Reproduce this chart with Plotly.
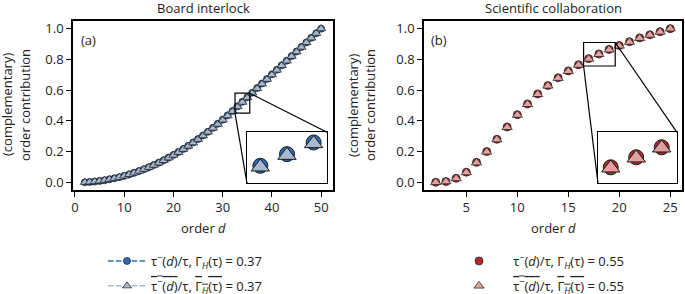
import plotly.graph_objects as go

# ---------------- data ----------------
d_board = list(range(2, 51))
board_tau = [0.0, 0.002, 0.0049, 0.0088, 0.0136, 0.0193, 0.0260, 0.0336, 0.0421, 0.0515,
             0.0619, 0.0732, 0.0854, 0.0986, 0.1127, 0.1278, 0.1437, 0.1606, 0.1784, 0.1972,
             0.2169, 0.2375, 0.2591, 0.2816, 0.3050, 0.3293, 0.3546, 0.3808, 0.4079, 0.4360,
             0.4649, 0.4946, 0.5243, 0.5541, 0.5838, 0.6135, 0.6433, 0.6730, 0.7027, 0.7325,
             0.7622, 0.7919, 0.8216, 0.8514, 0.8811, 0.9108, 0.9405, 0.9703, 1.0]
board_rand = [0.0, 0.002, 0.0048, 0.0086, 0.0133, 0.0189, 0.0255, 0.0330, 0.0414, 0.0507,
              0.0610, 0.0722, 0.0843, 0.0974, 0.1114, 0.1264, 0.1422, 0.1590, 0.1767, 0.1954,
              0.2150, 0.2355, 0.2570, 0.2794, 0.3027, 0.3269, 0.3521, 0.3782, 0.4052, 0.4332,
              0.4620, 0.4916, 0.5213, 0.5511, 0.5809, 0.6107, 0.6405, 0.6704, 0.7002, 0.7301,
              0.7600, 0.7899, 0.8198, 0.8497, 0.8797, 0.9097, 0.9397, 0.9698, 1.0]

d_sci = list(range(2, 26))
sci_tau = [0.0, 0.005, 0.026, 0.066, 0.13, 0.20, 0.28, 0.36, 0.44, 0.51, 0.575, 0.63,
           0.68, 0.725, 0.765, 0.805, 0.835, 0.865, 0.89, 0.915, 0.94, 0.96, 0.98, 1.0]
sci_rand = [0.0, 0.005, 0.025, 0.064, 0.128, 0.198, 0.278, 0.358, 0.438, 0.508, 0.573, 0.628,
            0.678, 0.723, 0.763, 0.803, 0.833, 0.863, 0.888, 0.913, 0.938, 0.959, 0.979, 1.0]

titles = ["Board interlock", "Scientific collaboration"]
panel_labels = ["(a)", "(b)"]
gamma_vals = ["0.37", "0.55"]
ticks_board = [0, 10, 20, 30, 40, 50]
ticks_sci = [5, 10, 15, 20, 25]
yticks = [0.0, 0.2, 0.4, 0.6, 0.8, 1.0]
ytick_text = ["0.0", "0.2", "0.4", "0.6", "0.8", "1.0"]

# ---------------- style ----------------
W, H = 685, 294
FONT = "Open Sans"
FS = 13
TXT = "#222222"
BLUE, LBLUE = "#2b6cb8", "#a9b8cf"
RED, PINK = "#b3282d", "#dea3a0"
EDGE = "#1a1a1a"
DASH = "5.5px,2.4px"

def px_x(p):
    return p / W

def px_y(p):
    return 1 - p / H

dom_y = [px_y(190), px_y(21)]
dom_x1 = [px_x(73), px_x(333)]
dom_x2 = [px_x(424), px_x(682)]
xr1 = [-0.4, 52.4]
xr2 = [0.85, 26.15]
yr = [-0.05, 1.05]

ins1_x = [px_x(247), px_x(327)]
ins2_x = [px_x(598), px_x(677)]
ins_y = [px_y(183.3), px_y(132.3)]
zoom1 = ([32.5, 35.5], [0.45, 0.58])
zoom2 = ([16.5, 19.6], [0.757, 0.91])

fig = go.Figure()

def add_pair(x, y1, y2, c1, c2, xa, ya, mode, size, lw, legend, names, showlegend, group):
    fig.add_trace(go.Scatter(
        x=x, y=y1, mode=mode, xaxis=xa, yaxis=ya, name=names[0],
        line=dict(color=c1, width=1.5, dash=DASH),
        marker=dict(symbol="circle", size=size, color=c1, line=dict(color=EDGE, width=lw)),
        showlegend=showlegend, legend=legend, legendgroup=group + "1"))
    fig.add_trace(go.Scatter(
        x=x, y=y2, mode=mode, xaxis=xa, yaxis=ya, name=names[1],
        line=dict(color=c2, width=1.5, dash=DASH),
        marker=dict(symbol="triangle-up", size=size + 1, color=c2, line=dict(color=EDGE, width=lw)),
        showlegend=showlegend, legend=legend, legendgroup=group + "2"))

def names_for(g, pad=""):
    a = f"{pad}τ<sup>−</sup>(<i>d</i>)/τ, Γ<sub><i>H</i></sub>(τ) = {g}"
    b = (f"{pad}<span style='text-decoration:overline'>τ<sup>−</sup>(<i>d</i>)</span>/τ, "
         f"<span style='text-decoration:overline'>Γ<sub><i>H</i></sub>(τ)</span> = {g}")
    return [a, b]

PAD = "\u00a0\u00a0\u00a0"
add_pair(d_board, board_tau, board_rand, BLUE, LBLUE, "x", "y", "lines+markers", 7, 0.7,
         "legend", names_for(gamma_vals[0]), True, "a")
add_pair(d_sci, sci_tau, sci_rand, RED, PINK, "x2", "y2", "markers", 8, 0.7,
         "legend2", names_for(gamma_vals[1], PAD), True, "b")
add_pair(d_board, board_tau, board_rand, BLUE, LBLUE, "x3", "y3", "markers", 15, 1.0,
         "legend", names_for(gamma_vals[0]), False, "c")
add_pair(d_sci, sci_tau, sci_rand, RED, PINK, "x4", "y4", "markers", 15, 1.0,
         "legend2", names_for(gamma_vals[1]), False, "d")

axis_common = dict(showline=True, linecolor="black", linewidth=1.5, mirror=True,
                   ticks="outside", ticklen=5, tickwidth=1.3, tickcolor="black",
                   showgrid=False, zeroline=False,
                   tickfont=dict(family=FONT, size=FS, color=TXT))
inset_common = dict(showline=True, linecolor="black", linewidth=1.3, mirror=True,
                    ticks="", showticklabels=False, showgrid=False, zeroline=False)

leg_common = dict(xanchor="left", yanchor="top", bgcolor="rgba(0,0,0,0)",
                  font=dict(family=FONT, size=FS, color=TXT),
                  tracegroupgap=5, traceorder="grouped", itemwidth=38)

fig.update_layout(
    width=W, height=H, margin=dict(l=0, r=0, t=0, b=0, autoexpand=False),
    paper_bgcolor="white", plot_bgcolor="white",
    font=dict(family=FONT, size=FS, color=TXT),
    xaxis=dict(domain=dom_x1, range=xr1, tickvals=ticks_board, anchor="y", **axis_common),
    yaxis=dict(domain=dom_y, range=yr, tickvals=yticks, ticktext=ytick_text, anchor="x", **axis_common),
    xaxis2=dict(domain=dom_x2, range=xr2, tickvals=ticks_sci, anchor="y2", **axis_common),
    yaxis2=dict(domain=dom_y, range=yr, tickvals=yticks, ticktext=ytick_text, anchor="x2", **axis_common),
    xaxis3=dict(domain=ins1_x, range=zoom1[0], anchor="y3", **inset_common),
    yaxis3=dict(domain=ins_y, range=zoom1[1], anchor="x3", **inset_common),
    xaxis4=dict(domain=ins2_x, range=zoom2[0], anchor="y4", **inset_common),
    yaxis4=dict(domain=ins_y, range=zoom2[1], anchor="x4", **inset_common),
    legend=dict(x=px_x(103), y=px_y(246), **leg_common),
    legend2=dict(x=px_x(455), y=px_y(246), **leg_common),
    showlegend=True,
)

def to_paper(xv, yv, xr, yrr, xd, yd):
    px = xd[0] + (xv - xr[0]) / (xr[1] - xr[0]) * (xd[1] - xd[0])
    py = yd[0] + (yv - yrr[0]) / (yrr[1] - yrr[0]) * (yd[1] - yd[0])
    return px, py

shapes = []
for (zx, zy), xa, ya, xr, xd, ixd in [(zoom1, "x", "y", xr1, dom_x1, ins1_x),
                                      (zoom2, "x2", "y2", xr2, dom_x2, ins2_x)]:
    shapes.append(dict(type="rect", xref=xa, yref=ya, x0=zx[0], x1=zx[1], y0=zy[0], y1=zy[1],
                       line=dict(color="black", width=1.2), layer="above"))
    bl = to_paper(zx[0], zy[0], xr, yr, xd, dom_y)
    tr = to_paper(zx[1], zy[1], xr, yr, xd, dom_y)
    shapes.append(dict(type="line", xref="paper", yref="paper", x0=bl[0], y0=bl[1],
                       x1=ixd[0], y1=ins_y[0], line=dict(color="black", width=1.2)))
    shapes.append(dict(type="line", xref="paper", yref="paper", x0=tr[0], y0=tr[1],
                       x1=ixd[1], y1=ins_y[1], line=dict(color="black", width=1.2)))
fig.update_layout(shapes=shapes)

ann = []
for i, (t, lab) in enumerate(zip(titles, panel_labels)):
    dx = dom_x1 if i == 0 else dom_x2
    cx = (dx[0] + dx[1]) / 2
    ann.append(dict(text=t, x=cx, y=px_y(8), xref="paper", yref="paper", showarrow=False,
                    xanchor="center", yanchor="middle", font=dict(size=FS)))
    ann.append(dict(text=lab, x=dx[0] + px_x(15), y=px_y(40), xref="paper", yref="paper",
                    showarrow=False, xanchor="center", yanchor="middle", font=dict(size=FS)))
    ann.append(dict(text="order <i>d</i>", x=cx, y=px_y(228), xref="paper", yref="paper",
                    showarrow=False, xanchor="center", yanchor="middle", font=dict(size=FS)))
ycen = px_y(105)
for x1p, x2p in [(7, 25), (353, 370)]:
    ann.append(dict(text="(complementary)", x=px_x(x1p), y=ycen, xref="paper", yref="paper",
                    showarrow=False, textangle=-90, xanchor="center", yanchor="middle",
                    font=dict(size=FS)))
    ann.append(dict(text="order contribution", x=px_x(x2p), y=ycen, xref="paper", yref="paper",
                    showarrow=False, textangle=-90, xanchor="center", yanchor="middle",
                    font=dict(size=FS)))
fig.update_layout(annotations=ann)

fig.write_html("out.html", config={"displayModeBar": False},
               post_script="document.body.style.margin='0';document.body.style.overflow='hidden';")
